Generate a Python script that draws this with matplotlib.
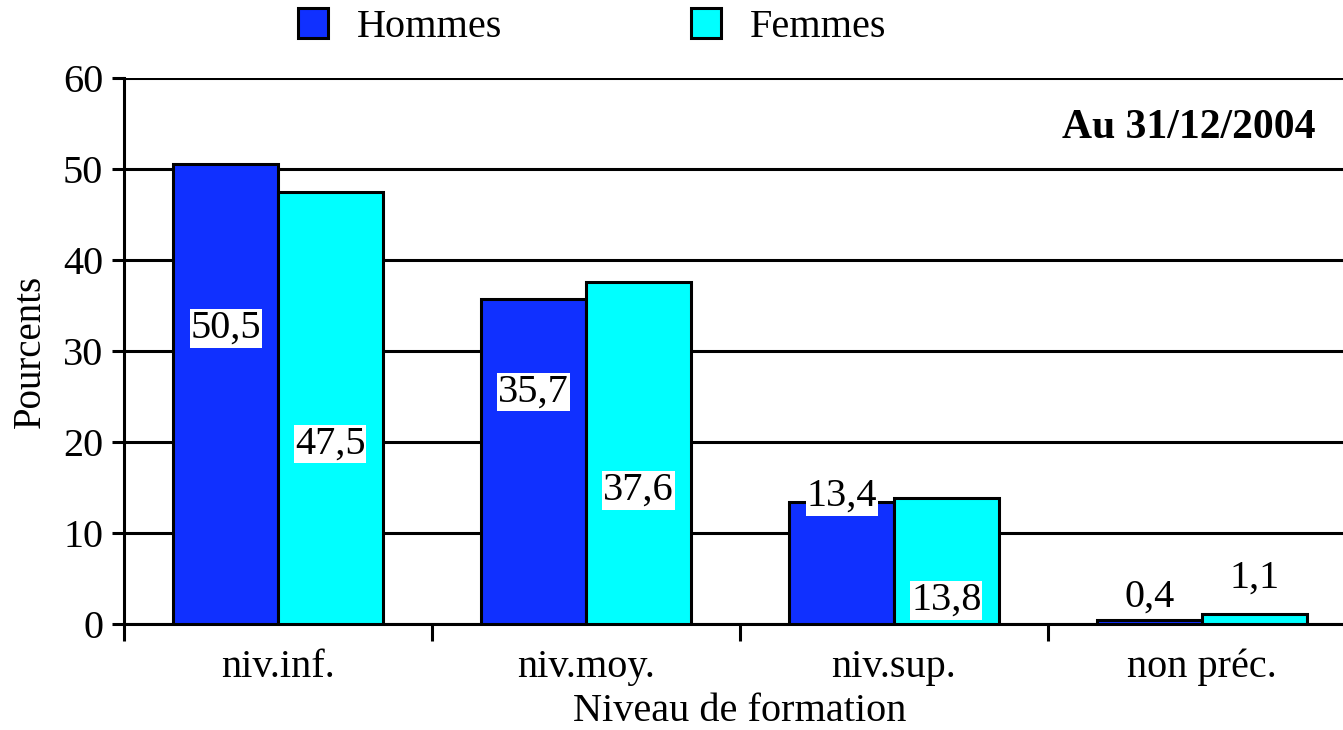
import numpy as np
import matplotlib; matplotlib.use("Agg")
import matplotlib.pyplot as plt
from matplotlib.patches import Patch

categories = ["niv.inf.", "niv.moy.", "niv.sup.", "non préc."]
hommes = [50.5, 35.7, 13.4, 0.4]
femmes = [47.5, 37.6, 13.8, 1.1]
labels_h = ["50,5", "35,7", "13,4", "0,4"]
labels_f = ["47,5", "37,6", "13,8", "1,1"]
# where the value boxes sit (y in data units, as in the original)
label_y_h = [32.5, 25.5, 14.0, 2.9]
label_y_f = [19.8, 14.7, 2.6, 5.0]

BLUE, CYAN = "#1030ff", "#00ffff"
plt.rcParams["font.family"] = ["Liberation Serif", "DejaVu Serif"]
FS = 29

fig = plt.figure(figsize=(13.43, 7.30), dpi=100)
ax = fig.add_axes([124 / 1343, 1 - 624 / 730, 1232 / 1343, (624 - 78) / 730])

x = np.arange(len(categories))
w = 0.34
ax.bar(x - w / 2, hommes, w, color=BLUE, edgecolor="black", lw=2.2, zorder=3)
ax.bar(x + w / 2, femmes, w, color=CYAN, edgecolor="black", lw=2.2, zorder=3)

box = dict(facecolor="white", edgecolor="none", pad=0.5)
for i in range(len(categories)):
    ax.text(x[i] - w / 2, label_y_h[i], labels_h[i], ha="center", va="center",
            fontsize=FS, bbox=box if hommes[i] > 5 else None, zorder=5)
    ax.text(x[i] + w / 2, label_y_f[i], labels_f[i], ha="center", va="center",
            fontsize=FS, bbox=box if femmes[i] > 5 else None, zorder=5)

ax.set_ylim(0, 60)
ax.set_xlim(-0.5, 3.5)
ax.set_yticks(range(0, 61, 10))
ax.yaxis.grid(True, color="black", lw=2.2, zorder=1)
ax.set_axisbelow(True)
for s in ("top", "right"):
    ax.spines[s].set_visible(False)
ax.spines["left"].set_linewidth(2.2)
ax.spines["bottom"].set_linewidth(2.2)

ax.set_xticks(x)
ax.set_xticklabels(categories, fontsize=FS)
ax.tick_params(axis="x", which="major", length=0, pad=18)
ax.set_xticks([-0.5, 0.5, 1.5, 2.5], minor=True)
ax.tick_params(axis="x", which="minor", length=12, width=2.2, direction="out")
ax.tick_params(axis="y", labelsize=FS, length=9, width=2.2, direction="out", pad=6)

ax.set_xlabel("Niveau de formation", fontsize=FS, labelpad=5)
ax.set_ylabel("Pourcents", fontsize=28, labelpad=10)

ax.text(1315 / 1343, 1 - 128 / 730, "Au 31/12/2004", transform=fig.transFigure,
        ha="right", va="center", fontsize=30, fontweight="bold")

handles = [Patch(facecolor=BLUE, edgecolor="black", lw=2.2, label="Hommes"),
           Patch(facecolor=CYAN, edgecolor="black", lw=2.2, label="Femmes")]
fig.legend(handles=handles, loc="center", bbox_to_anchor=(592 / 1343, 1 - 27 / 730),
           ncol=2, frameon=False, fontsize=FS, handlelength=0.75, handleheight=0.75,
           handletextpad=0.7, columnspacing=4.7)

fig.savefig("out.png", dpi=100)
